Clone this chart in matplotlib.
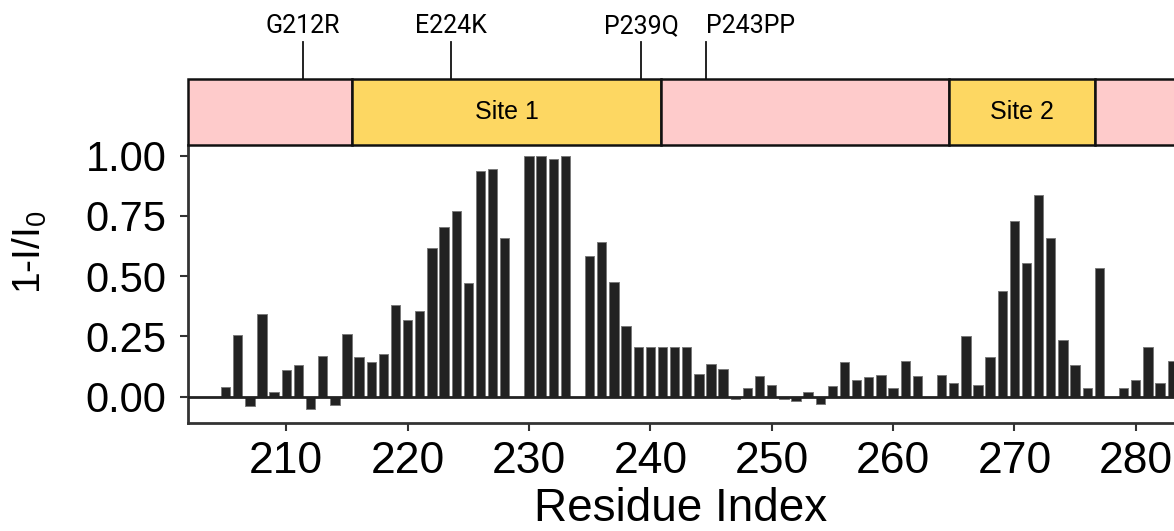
import numpy as np
import matplotlib
matplotlib.use("Agg")
import matplotlib.pyplot as plt
from matplotlib.patches import Rectangle

plt.rcParams['font.family'] = ['Liberation Sans', 'DejaVu Sans']

# residue numbers and 1-I/I0 values (gaps = no data)
residues = [205, 206, 207, 208, 209, 210, 211, 212, 213, 214,
            215, 216, 217, 218, 219, 220, 221, 222, 223, 224,
            225, 226, 227, 228, 230, 231, 232, 233, 235, 236,
            237, 238, 239, 240, 241, 242, 243, 244, 245, 246,
            247, 248, 249, 250, 251, 252, 253, 254, 255, 256,
            257, 258, 259, 260, 261, 262, 264, 265, 266, 267,
            268, 269, 270, 271, 272, 273, 274, 275, 276, 277,
            279, 280, 281, 282, 283]
values = [0.04, 0.255, -0.04, 0.345, 0.02, 0.11, 0.13, -0.05, 0.17, -0.035,
          0.26, 0.165, 0.145, 0.175, 0.38, 0.32, 0.355, 0.615, 0.705, 0.77,
          0.47, 0.935, 0.945, 0.66, 1.0, 1.0, 0.985, 1.0, 0.585, 0.64,
          0.475, 0.295, 0.205, 0.205, 0.205, 0.205, 0.205, 0.095, 0.135, 0.115,
          -0.01, 0.035, 0.085, 0.05, -0.01, -0.02, 0.02, -0.03, 0.045, 0.145,
          0.07, 0.08, 0.09, 0.035, 0.15, 0.085, 0.09, 0.057, 0.25, 0.05,
          0.165, 0.44, 0.73, 0.555, 0.835, 0.66, 0.235, 0.13, 0.035, 0.535,
          0.035, 0.07, 0.205, 0.055, 0.15]

# domain schematic above the plot
domain_starts = [201.9, 215.45, 240.86, 264.6, 276.6]
domain_ends = [215.45, 240.86, 264.6, 276.6, 300]
domain_names = ["", "Site 1", "", "Site 2", ""]
domain_colors = ["#fecbcb", "#fdd762", "#fecbcb", "#fdd762", "#fecbcb"]

mutations = ["G212R", "E224K", "P239Q", "P243PP"]
mutation_pos = [211.36, 223.6, 239.27, 244.55]
mutation_ha = ["center", "center", "center", "left"]

yticks = [0.0, 0.25, 0.5, 0.75, 1.0]
xticks = [210, 220, 230, 240, 250, 260, 270, 280]

xlim = (201.9, 283.15)

fig = plt.figure(figsize=(11.74, 5.31), dpi=100)
left, width = 188 / 1174, 986 / 1174
ax = fig.add_axes([left, 1 - 422.7 / 531, width, (422.7 - 145) / 531])
ax_dom = fig.add_axes([left, 1 - 145 / 531, width, (145 - 79.3) / 531])

# bars
ax.bar(residues, values, width=0.77, color="#222222", edgecolor="#7a7a7a", linewidth=0.7, zorder=2)
ax.axhline(0, color="#222222", lw=2, zorder=3)
ax.set_xlim(*xlim)
ax.set_ylim(-0.108, 1.044)
ax.set_yticks(yticks)
ax.set_yticklabels(["%.2f" % v for v in yticks])
ax.set_xticks(xticks)
for s in ["top", "right"]:
    ax.spines[s].set_visible(False)
for s in ["left", "bottom"]:
    ax.spines[s].set_linewidth(2)
    ax.spines[s].set_color("#333333")
ax.tick_params(axis="y", direction="out", length=5.5, width=1.5, color="#333333",
               labelsize=30, pad=10)
ax.tick_params(axis="x", direction="out", length=6, width=1.5, color="#333333",
               labelsize=32, pad=7)
ax.set_xlabel("Residue Index", fontsize=33, labelpad=4)
fig.text(30 / 1174, 1 - 252 / 531, r"1-I/I$_\mathregular{0}$", rotation=90,
         ha="center", va="center", fontsize=28)

# domain boxes
ax_dom.set_xlim(*xlim)
ax_dom.set_ylim(0, 1)
ax_dom.axis("off")
for st, en, name, col in zip(domain_starts, domain_ends, domain_names, domain_colors):
    ax_dom.add_patch(Rectangle((st, 0), en - st, 1, facecolor=col, edgecolor="#111111",
                               lw=1.8, clip_on=False))
    if name:
        ax_dom.text((st + en) / 2, 0.5, name, ha="center", va="center", fontsize=18)

for name, pos, ha in zip(mutations, mutation_pos, mutation_ha):
    ax_dom.plot([pos, pos], [1, 1.563], color="#111111", lw=1.3, clip_on=False)
    ax_dom.text(pos, 1.70, name, ha=ha, va="baseline", fontsize=18,
                family=["Roboto", "DejaVu Sans"])

fig.savefig("out.png", dpi=100)
